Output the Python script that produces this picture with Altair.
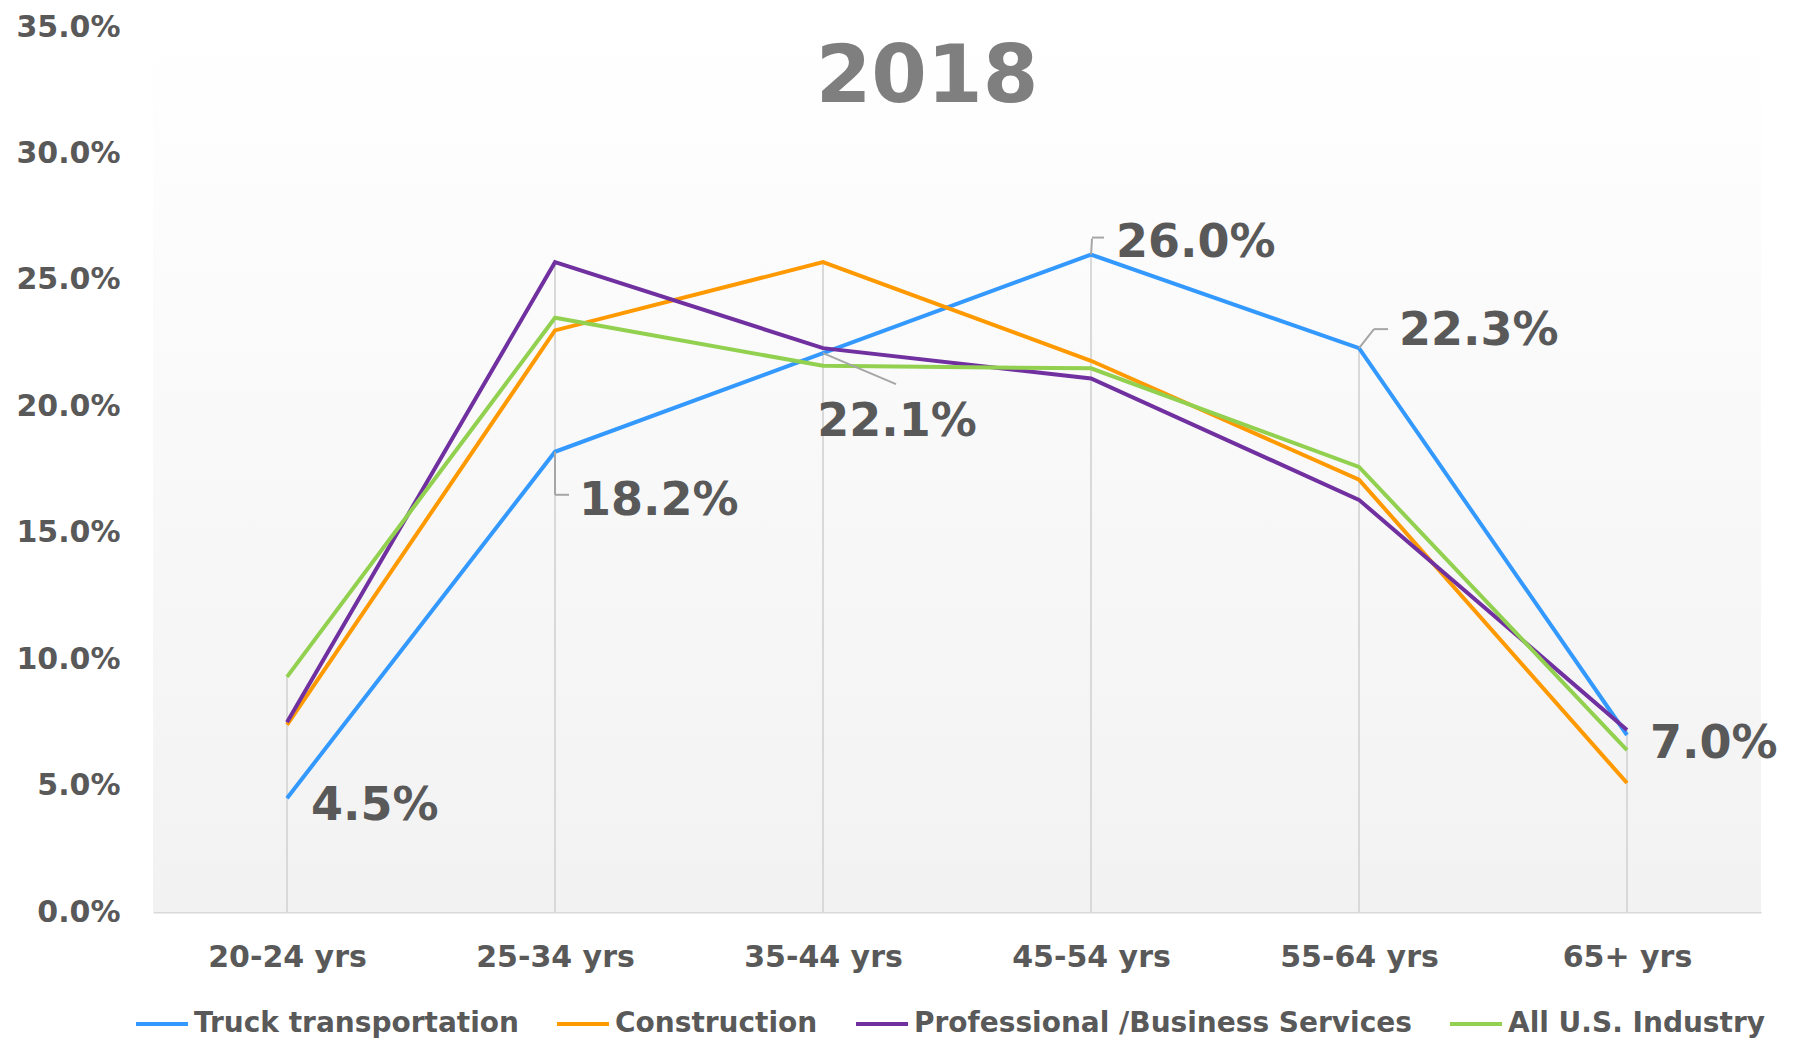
import json
import altair as alt
import pandas as pd

# ---------------- data ----------------
AGE_GROUPS = ["20-24 yrs", "25-34 yrs", "35-44 yrs", "45-54 yrs", "55-64 yrs", "65+ yrs"]
SERIES = ["Truck transportation", "Construction", "Professional /Business Services", "All U.S. Industry"]
TRUCK = [4.5, 18.2, 22.1, 26.0, 22.3, 7.0]
CONSTRUCTION = [7.4, 23.0, 25.7, 21.8, 17.1, 5.1]
PROFESSIONAL = [7.5, 25.7, 22.3, 21.1, 16.3, 7.2]
ALL_US = [9.3, 23.5, 21.6, 21.5, 17.6, 6.4]
Y_TICKS = [0, 5, 10, 15, 20, 25, 30, 35]
TITLE = "2018"

# ---------------- style ----------------
COLORS = ["#3399ff", "#ff9900", "#7030a0", "#92d050"]
FONT = "DejaVu Sans"
TEXT_COLOR = "#595959"
W, H = 1608, 885
TOP = 19

# label placement for the Truck series: (index, dx, dy, align)
LABEL_STYLE = [
    (0, 24, 8, "left"),
    (1, 24, 49, "left"),
    (2, 74, 69, "center"),
    (3, 25, -12, "left"),
    (4, 40, -17, "left"),
    (5, 23, 9, "left"),
]
# leader segments in pixel offsets from the point: (index, x1, y1, x2, y2)
LEADERS = [
    (1, 0, 0, 0, 43),
    (1, 0, 43, 14, 43),
    (2, 0, 0, 73, 31),
    (3, 0, 0, 1, -16),
    (3, 1, -17, 13, -17),
    (4, 0, 0, 15, -19),
    (4, 15, -19, 29, -19),
]

all_values = [TRUCK, CONSTRUCTION, PROFESSIONAL, ALL_US]
rows = []
for s, vals in zip(SERIES, all_values):
    for i, (a, v) in enumerate(zip(AGE_GROUPS, vals)):
        rows.append({"idx": i, "age": a, "series": s, "value": v})
df = pd.DataFrame(rows)

drop_df = df.groupby("idx", as_index=False)["value"].max().rename(columns={"value": "top"})
drop_df["base"] = 0.0

truck_df = df[df["series"] == SERIES[0]].reset_index(drop=True)
truck_df["label"] = truck_df["value"].map(lambda v: f"{v:.1f}%")

label_expr = json.dumps(AGE_GROUPS) + "[datum.value]"

x_axis = alt.Axis(
    values=list(range(len(AGE_GROUPS))),
    labelExpr=label_expr,
    title=None,
    grid=False,
    ticks=False,
    tickSize=0,
    domainColor="#d9d9d9",
    domainWidth=2,
    labelFont=FONT,
    labelFontSize=30,
    labelFontWeight="bold",
    labelColor=TEXT_COLOR,
    labelPadding=30,
)
y_axis = alt.Axis(
    values=Y_TICKS,
    labelExpr="format(datum.value, '.1f') + '%'",
    title=None,
    grid=False,
    ticks=False,
    tickSize=0,
    domain=False,
    labelFont=FONT,
    labelFontSize=30,
    labelFontWeight="bold",
    labelColor=TEXT_COLOR,
    labelPadding=33,
)
x_scale = alt.Scale(domain=[-0.5, len(AGE_GROUPS) - 0.5], nice=False, zero=False)
y_scale = alt.Scale(domain=[0, 35], nice=False)
x_enc = alt.X("idx:Q", scale=x_scale, axis=x_axis)
y_enc = alt.Y("value:Q", scale=y_scale, axis=y_axis)

background = alt.Chart(pd.DataFrame({"k": [0]})).mark_rect(
    fill=alt.Gradient(
        gradient="linear",
        stops=[
            alt.GradientStop(color="#ffffff", offset=0),
            alt.GradientStop(color="#f2f2f2", offset=1),
        ],
        x1=0, x2=0, y1=0, y2=1,
    )
).encode(x=alt.value(0), x2=alt.value(W), y=alt.value(0), y2=alt.value(H))

drops = alt.Chart(drop_df).mark_rule(color="#d9d9d9", strokeWidth=2).encode(
    x=x_enc,
    y=alt.Y("base:Q", scale=y_scale, axis=y_axis),
    y2=alt.Y2("top:Q"),
)

lines = alt.Chart(df).mark_line(strokeWidth=4).encode(
    x=x_enc,
    y=y_enc,
    color=alt.Color(
        "series:N",
        scale=alt.Scale(domain=SERIES, range=COLORS),
        sort=SERIES,
        legend=alt.Legend(
            title=None,
            orient="none",
            legendX=-19,
            legendY=972 - (TOP - 16) + (888 - H) * 0,
            direction="horizontal",
            columns=4,
            symbolType="stroke",
            symbolSize=2704,
            symbolStrokeWidth=4,
            labelFont=FONT,
            labelFontSize=28,
            labelFontWeight="bold",
            labelColor=TEXT_COLOR,
            labelOffset=4,
            columnPadding=30,
            labelLimit=1000,
        ),
    ),
)

layers = [background, drops, lines]

for idx, x1, y1, x2, y2 in LEADERS:
    layers.append(
        alt.Chart(truck_df[truck_df["idx"] == idx])
        .mark_rule(color="#a6a6a6", strokeWidth=2,
                   xOffset=x1, yOffset=y1, x2Offset=x2, y2Offset=y2)
        .encode(x=x_enc, y=y_enc, x2=alt.X2("idx:Q"), y2=alt.Y2("value:Q"))
    )

for idx, dx, dy, align in LABEL_STYLE:
    layers.append(
        alt.Chart(truck_df[truck_df["idx"] == idx])
        .mark_text(dx=dx, dy=dy, align=align, baseline="middle",
                   font=FONT, fontSize=46, fontWeight="bold", color=TEXT_COLOR)
        .encode(x=x_enc, y=y_enc, text="label:N")
    )

title = alt.Chart(pd.DataFrame({"t": [TITLE]})).mark_text(
    font=FONT, fontSize=80, fontWeight="bold", color="#7f7f7f",
    align="center", baseline="middle",
).encode(x=alt.value(774), y=alt.value(51), text="t:N")
layers.append(title)

chart = alt.layer(*layers).properties(
    width=W,
    height=H,
    autosize=alt.AutoSizeParams(type="none"),
    padding={"left": 145, "top": TOP, "right": 25, "bottom": 130},
).configure_view(stroke="transparent")

chart.save("out.html", embed_options={"renderer": "svg", "actions": False})
